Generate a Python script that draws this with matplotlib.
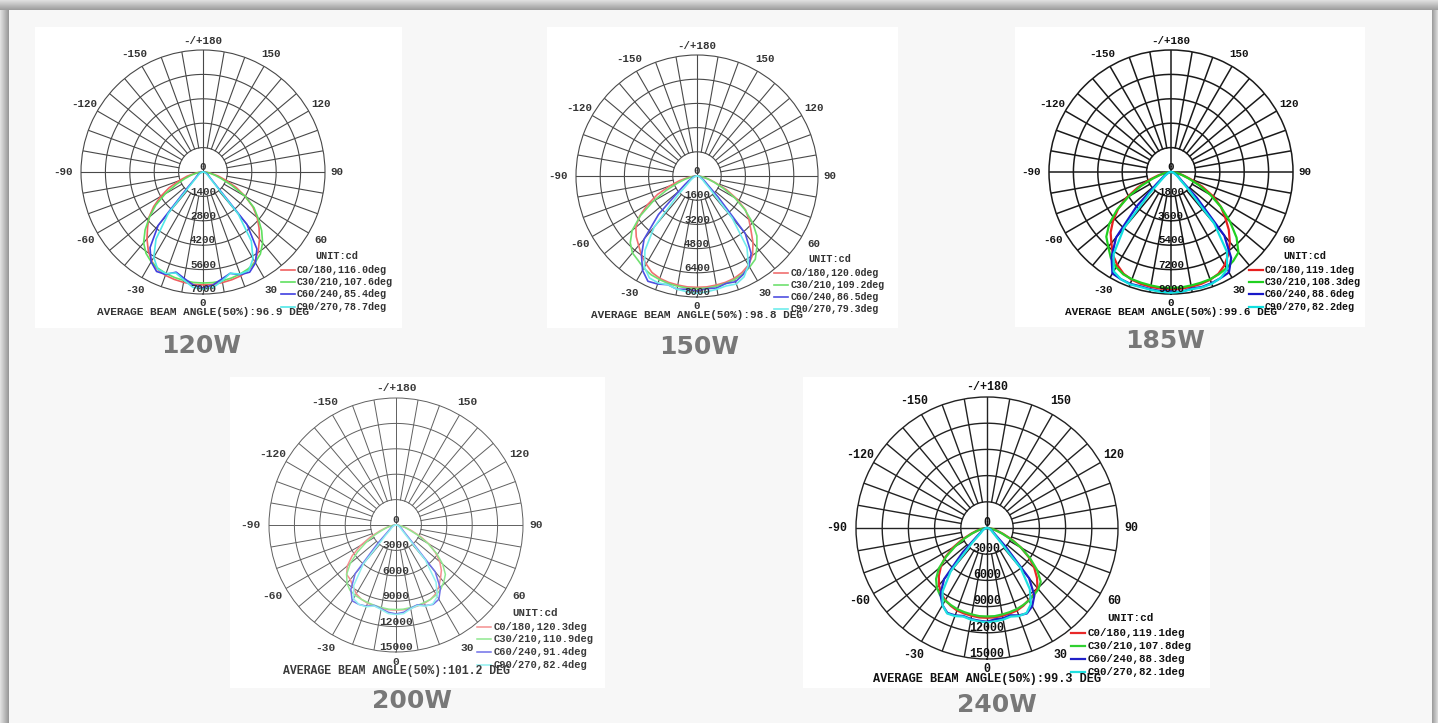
import numpy as np
import matplotlib.pyplot as plt
from matplotlib.patches import Rectangle

# gamma angles (deg) for every intensity list, 0 = straight down
GAMMA = [0, 5, 10, 15, 20, 25, 30, 35, 40, 45, 50, 55, 60, 65, 70, 75, 80, 85, 90]

# ---- 120W ----
w120_rings = [1400, 2800, 4200, 5600, 7000]
w120_c0_right = [6480, 6480, 6440, 6400, 6340, 6200, 5950, 5530, 5040, 4550, 4060, 3500, 2800, 2100, 1400, 910, 490, 210, 0]
w120_c0_left = [6480, 6470, 6430, 6380, 6310, 6170, 5900, 5480, 5000, 4500, 4050, 3450, 2800, 2150, 1450, 950, 500, 220, 0]
w120_c30_right = [6370, 6370, 6340, 6300, 6230, 6130, 5990, 5740, 5320, 4760, 4130, 3570, 2800, 1820, 1120, 700, 420, 210, 0]
w120_c30_left = [6370, 6360, 6320, 6270, 6200, 6100, 5950, 5700, 5300, 4700, 4000, 3300, 2500, 1700, 1100, 700, 400, 200, 0]
w120_c60_right = [6650, 6510, 6230, 6020, 6270, 6340, 6020, 5390, 3920, 980, 560, 420, 350, 280, 210, 140, 100, 70, 0]
w120_c60_left = [6650, 6500, 6200, 5950, 6250, 6300, 5950, 5300, 4000, 1200, 600, 450, 350, 280, 210, 140, 100, 70, 0]
w120_c90_right = [6720, 6650, 6340, 6020, 6230, 6230, 5740, 4830, 3150, 840, 490, 350, 280, 210, 140, 100, 70, 35, 0]
w120_c90_left = [6720, 6640, 6300, 6000, 6200, 6150, 5650, 4700, 3100, 900, 500, 350, 280, 210, 140, 100, 70, 35, 0]
w120_legend = ["C0/180,116.0deg", "C30/210,107.6deg", "C60/240,85.4deg", "C90/270,78.7deg"]
w120_beam = "96.9"

# ---- 150W ----
w150_rings = [1600, 3200, 4800, 6400, 8000]
w150_c0_right = [7360, 7360, 7320, 7280, 7200, 7040, 6800, 6400, 5760, 5040, 4480, 3920, 3040, 2160, 1280, 800, 400, 160, 0]
w150_c0_left = [7360, 7360, 7320, 7280, 7200, 7040, 6720, 6400, 6000, 5680, 5280, 4640, 3760, 2880, 1920, 1200, 640, 240, 0]
w150_c30_right = [7440, 7440, 7400, 7360, 7280, 7160, 6960, 6720, 6160, 5600, 4800, 3840, 2880, 1920, 1200, 720, 400, 160, 0]
w150_c30_left = [7440, 7440, 7400, 7360, 7280, 7200, 7040, 6800, 6640, 6240, 5600, 4560, 3360, 2240, 1360, 800, 400, 160, 0]
w150_c60_right = [7600, 7480, 7520, 7360, 7440, 7200, 6880, 6240, 4960, 2000, 960, 640, 480, 320, 240, 160, 120, 80, 0]
w150_c60_left = [7600, 7520, 7600, 7440, 7600, 7680, 7200, 6400, 5440, 3600, 1600, 960, 640, 400, 320, 240, 160, 80, 0]
w150_c90_right = [7760, 7680, 7600, 7520, 7600, 7360, 6800, 5760, 3600, 1200, 640, 480, 320, 240, 160, 120, 80, 40, 0]
w150_c90_left = [7760, 7680, 7600, 7440, 7520, 7440, 6960, 6000, 4400, 1800, 800, 560, 400, 280, 200, 120, 80, 40, 0]
w150_legend = ["C0/180,120.0deg", "C30/210,109.2deg", "C60/240,86.5deg", "C90/270,79.3deg"]
w150_beam = "98.8"

# ---- 185W ----
w185_rings = [1800, 3600, 5400, 7200, 9000]
w185_c0_right = [8640, 8640, 8600, 8550, 8460, 8280, 7920, 7380, 6750, 6030, 5220, 4500, 3600, 2520, 1530, 900, 450, 180, 0]
w185_c0_left = [8640, 8640, 8600, 8550, 8460, 8280, 7920, 7470, 6840, 6300, 5580, 4770, 3780, 2700, 1710, 990, 450, 180, 0]
w185_c30_right = [8550, 8550, 8500, 8460, 8420, 8330, 8190, 8010, 7740, 6840, 5670, 4500, 3330, 2250, 1350, 810, 450, 180, 0]
w185_c30_left = [8550, 8550, 8500, 8460, 8420, 8330, 8100, 7740, 7200, 6750, 5940, 4860, 3600, 2430, 1440, 810, 450, 180, 0]
w185_c60_right = [8820, 8870, 8730, 8780, 8730, 8640, 8550, 7740, 6120, 2700, 1080, 720, 540, 360, 270, 180, 135, 90, 0]
w185_c60_left = [8820, 8820, 8780, 8730, 8780, 8730, 8640, 7650, 6300, 3600, 1440, 810, 540, 360, 270, 180, 135, 90, 0]
w185_c90_right = [8910, 8870, 8780, 8820, 8780, 8640, 8280, 7200, 4950, 1800, 900, 630, 450, 315, 225, 180, 90, 45, 0]
w185_c90_left = [8910, 8870, 8820, 8780, 8820, 8730, 8460, 7380, 5400, 2250, 990, 630, 450, 315, 225, 180, 90, 45, 0]
w185_legend = ["C0/180,119.1deg", "C30/210,108.3deg", "C60/240,88.6deg", "C90/270,82.2deg"]
w185_beam = "99.6"

# ---- 200W ----
w200_rings = [3000, 6000, 9000, 12000, 15000]
w200_c0_right = [10050, 10050, 9980, 9900, 9830, 9680, 9380, 8850, 8180, 7580, 6750, 5700, 4500, 3150, 1950, 1200, 600, 230, 0]
w200_c0_left = [10050, 10050, 9980, 9900, 9830, 9680, 9380, 8850, 8400, 8250, 7500, 6300, 4800, 3300, 2000, 1200, 600, 230, 0]
w200_c30_right = [9980, 9980, 9900, 9830, 9750, 9680, 9530, 9230, 8780, 8250, 7200, 5850, 4350, 2850, 1650, 1050, 600, 230, 0]
w200_c30_left = [9980, 9980, 9900, 9830, 9750, 9680, 9600, 9450, 9000, 8250, 7050, 5550, 4050, 2700, 1650, 1050, 600, 230, 0]
w200_c60_right = [10500, 10350, 9980, 9750, 10130, 10350, 10130, 9150, 7200, 2100, 1200, 900, 680, 530, 380, 300, 150, 80, 0]
w200_c60_left = [10500, 10350, 10050, 9830, 10200, 10350, 10350, 9300, 7500, 3000, 1350, 900, 680, 530, 380, 300, 150, 80, 0]
w200_c90_right = [10580, 10500, 10050, 9830, 10200, 10280, 9750, 8250, 5400, 1500, 900, 680, 530, 380, 300, 230, 150, 80, 0]
w200_c90_left = [10580, 10500, 10130, 9900, 10280, 10350, 10050, 8700, 6000, 1800, 900, 680, 530, 380, 300, 230, 150, 80, 0]
w200_legend = ["C0/180,120.3deg", "C30/210,110.9deg", "C60/240,91.4deg", "C90/270,82.4deg"]
w200_beam = "101.2"

# ---- 240W ----
w240_rings = [3000, 6000, 9000, 12000, 15000]
w240_c0_right = [10280, 10280, 10200, 10130, 10050, 9830, 9530, 9300, 9000, 8100, 7050, 5850, 4500, 3150, 1950, 1200, 600, 230, 0]
w240_c0_left = [10280, 10280, 10200, 10130, 10050, 9830, 9530, 9150, 8550, 7800, 6900, 5850, 4500, 3150, 1950, 1200, 600, 230, 0]
w240_c30_right = [10130, 10130, 10050, 9980, 9900, 9750, 9600, 9380, 9150, 8700, 7500, 6000, 4500, 3000, 1800, 1050, 600, 230, 0]
w240_c30_left = [10130, 10130, 10050, 9980, 9900, 9750, 9600, 9380, 8930, 8250, 7200, 5700, 4200, 2850, 1800, 1050, 600, 230, 0]
w240_c60_right = [10730, 10500, 10500, 10350, 10650, 10800, 10350, 9450, 7500, 3000, 1350, 900, 680, 530, 380, 300, 150, 80, 0]
w240_c60_left = [10730, 10650, 10580, 10430, 10650, 10730, 10200, 9300, 7650, 3900, 1500, 900, 680, 530, 380, 300, 150, 80, 0]
w240_c90_right = [10800, 10730, 10650, 10500, 10730, 10730, 10050, 8550, 6000, 1800, 1050, 750, 600, 450, 300, 230, 150, 80, 0]
w240_c90_left = [10800, 10730, 10650, 10500, 10730, 10800, 10200, 8850, 6450, 2400, 1050, 750, 600, 450, 300, 230, 150, 80, 0]
w240_legend = ["C0/180,119.1deg", "C30/210,107.8deg", "C60/240,88.3deg", "C90/270,82.1deg"]
w240_beam = "99.3"

ANGLES = [180, 150, 120, 90, 60, 30, 0, -30, -60, -90, -120, -150]
ANGLE_TEXT = ["-/+180", "150", "120", "90", "60", "30", "0", "-30", "-60", "-90", "-120", "-150"]

MONO = ["Liberation Mono", "DejaVu Sans Mono"]
W, H = 1438, 723

fig = plt.figure(figsize=(W / 100, H / 100), dpi=100)
fig.patch.set_facecolor("#f7f7f7")


def box(x0, y0, x1, y1, color, z):
    fig.add_artist(Rectangle((x0 / W, 1 - y1 / H), (x1 - x0) / W, (y1 - y0) / H,
                             transform=fig.transFigure, facecolor=color,
                             edgecolor="none", zorder=z))


# page shadow around the edges
for i, s in enumerate(np.linspace(0.87, 0.62, 10)):
    box(0, i, W, i + 1, str(s), -10)
for i, s in enumerate(np.linspace(0.88, 0.60, 9)):
    box(i, 10, i + 1, H, str(s), -10)
for i, s in enumerate(np.linspace(0.62, 0.85, 6)):
    box(1432 + i, 10, 1433 + i, H, str(s), -10)


def draw_chart(cx, cy, R, rings, curves, legend, beam, colors, grid_c, grid_lw, curve_lw, txt_c):
    ax = fig.add_axes([(cx - R) / W, 1 - (cy + R) / H, 2 * R / W, 2 * R / H], projection="polar")
    ax.set_theta_zero_location("S")
    ax.patch.set_alpha(0)
    ax.grid(False)
    ax.set_xticks([])
    ax.set_yticks([])
    rmax = rings[-1]
    ax.spines["polar"].set_color(grid_c)
    ax.spines["polar"].set_linewidth(grid_lw)

    circ = np.linspace(0, 2 * np.pi, 400)
    for r in rings[:-1]:
        ax.plot(circ, np.full_like(circ, r), color=grid_c, lw=grid_lw)
    for a in range(0, 360, 10):
        t = np.radians(a)
        r0 = 0 if a % 90 == 0 else rings[0]
        ax.plot([t, t], [r0, rmax], color=grid_c, lw=grid_lw)

    g = np.radians(GAMMA)
    for (left, right), col in zip(curves, colors):
        theta = np.concatenate([-g[::-1], g[1:]])
        rr = np.concatenate([np.array(left)[::-1], np.array(right)[1:]])
        ax.plot(theta, rr, color=col, lw=curve_lw, zorder=3)
    ax.set_ylim(0, rmax)

    sc = R / 122
    fs = 7.8 * sc
    for a, s in zip(ANGLES, ANGLE_TEXT):
        if a in (0, 180):
            k = 1.075
        elif a == 90:
            k = 1.10
        elif a == -90:
            k = 1.145
        else:
            k = 1.12
        ax.text(np.radians(a), k * rmax, s, ha="center", va="center",
                fontsize=fs, family=MONO, weight="bold", color=txt_c)
    ax.text(np.pi, 0.04 * rmax, "0", ha="center", va="center",
            fontsize=fs, family=MONO, weight="bold", color=txt_c, zorder=4)
    for r in rings:
        ax.text(0, r - 0.04 * rmax, str(r), ha="center", va="center",
                fontsize=fs, family=MONO, weight="bold", color=txt_c, zorder=4)

    ax.text(0.96, 0.155, "UNIT:cd", transform=ax.transAxes, ha="left", va="center",
            fontsize=7.4 * sc, family=MONO, weight="bold", color=txt_c)
    for i, (lab, col) in enumerate(zip(legend, colors)):
        y = 0.10 - 0.0505 * i
        ax.plot([0.82, 0.875], [y, y], transform=ax.transAxes, color=col,
                lw=curve_lw, clip_on=False)
        ax.text(0.885, y, lab, transform=ax.transAxes, ha="left", va="center",
                fontsize=7.2 * sc, family=MONO, weight="bold", color=txt_c)
    ax.text(0, 1.15 * rmax, "AVERAGE BEAM ANGLE(50%):" + beam + " DEG", ha="center", va="center",
            fontsize=8 * sc, family=MONO, weight="bold", color=txt_c)


# white picture panels
box(35, 27, 402, 328, "white", -5)
box(547, 27, 898, 328, "white", -5)
box(1015, 27, 1365, 327, "white", -5)
box(230, 377, 605, 688, "white", -5)
box(803, 377, 1210, 688, "white", -5)

draw_chart(203, 172, 122, w120_rings,
           [(w120_c0_left, w120_c0_right), (w120_c30_left, w120_c30_right),
            (w120_c60_left, w120_c60_right), (w120_c90_left, w120_c90_right)],
           w120_legend, w120_beam, ["#f06060", "#60e060", "#4040e0", "#50e8e8"],
           "#484848", 0.8, 1.2, "#333333")
draw_chart(697, 176, 121, w150_rings,
           [(w150_c0_left, w150_c0_right), (w150_c30_left, w150_c30_right),
            (w150_c60_left, w150_c60_right), (w150_c90_left, w150_c90_right)],
           w150_legend, w150_beam, ["#f07070", "#70e070", "#5050e0", "#70ecec"],
           "#4a4a4a", 0.8, 1.2, "#333333")
draw_chart(1171, 172, 122, w185_rings,
           [(w185_c0_left, w185_c0_right), (w185_c30_left, w185_c30_right),
            (w185_c60_left, w185_c60_right), (w185_c90_left, w185_c90_right)],
           w185_legend, w185_beam, ["#e82020", "#20d020", "#1818c8", "#10e0e0"],
           "#1a1a1a", 1.1, 1.6, "#111111")
draw_chart(396, 525, 127, w200_rings,
           [(w200_c0_left, w200_c0_right), (w200_c30_left, w200_c30_right),
            (w200_c60_left, w200_c60_right), (w200_c90_left, w200_c90_right)],
           w200_legend, w200_beam, ["#f49090", "#90e890", "#7070e8", "#90f0f0"],
           "#606060", 0.7, 1.1, "#3a3a3a")
draw_chart(987, 528, 131, w240_rings,
           [(w240_c0_left, w240_c0_right), (w240_c30_left, w240_c30_right),
            (w240_c60_left, w240_c60_right), (w240_c90_left, w240_c90_right)],
           w240_legend, w240_beam, ["#e82828", "#30d030", "#2020c8", "#20e0e0"],
           "#222222", 1.0, 1.6, "#111111")

# wattage captions under each picture
for x, y, s in [(201, 346, "120W"), (699, 347, "150W"), (1165, 341, "185W"),
                (412, 701, "200W"), (997, 705, "240W")]:
    fig.text(x / W, 1 - y / H, s, ha="center", va="center", fontsize=18,
             weight="bold", color="#787878", family="DejaVu Sans")

fig.savefig("out.png", dpi=100)
